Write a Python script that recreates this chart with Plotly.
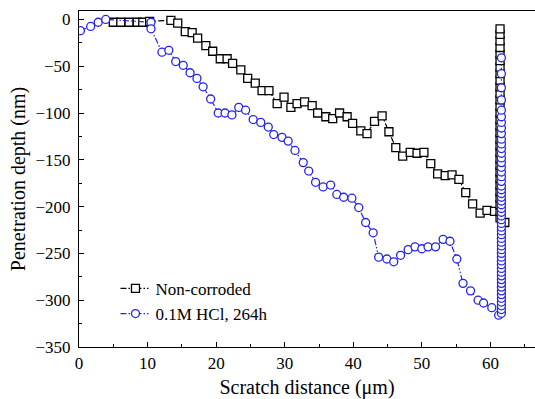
import plotly.graph_objects as go

# Non-corroded scratch profile (scratch distance in um, depth in nm)
ref_x = [5.0, 6.1, 7.3, 8.5, 9.3, 10.3, 13.4, 14.4, 15.5, 16.5, 17.3, 18.5, 19.5, 20.6,
         21.6, 22.4, 23.6, 24.6, 25.7, 26.7, 27.7, 28.9, 29.9, 30.9, 31.8, 32.9, 34.0,
         34.8, 36.0, 37.0, 38.0, 39.1, 39.9, 41.1, 42.0, 43.1, 44.2, 45.2, 46.2, 47.2,
         48.3, 49.3, 50.3, 51.3, 52.3, 53.4, 54.4, 55.4, 56.4, 57.4, 58.5, 59.5, 60.6,
         62.1]
ref_y = [-3, -3, -3, -3, -3, -2, -1, -4, -13, -14, -20, -28, -34, -42,
         -42, -47, -54, -63, -68, -76, -76, -90, -83, -94, -90, -88, -92,
         -100, -104, -106, -100, -104, -111, -119, -122, -109, -103, -120, -137, -146,
         -142, -143, -142, -154, -165, -167, -166, -171, -185, -197, -207, -204, -205,
         -217]
# tip lift-off at the end of the scratch
ref_lift_y = [-212, -205, -198, -191, -184, -177, -170, -163, -156, -149, -142, -135,
              -128, -121, -114, -107, -100, -93, -86, -79, -72, -65, -58, -51, -44,
              -37, -30, -23, -16, -10]
ref_lift_x = [61.4] * len(ref_lift_y)

# 0.1M HCl, 264h scratch profile
hcl_x = [0.2, 1.7, 2.8, 3.9, 10.5, 10.5, 12.1, 13.1, 14.1, 15.2, 16.2, 17.2, 18.1, 19.2,
         20.3, 21.3, 22.3, 23.3, 24.3, 25.4, 26.5, 27.6, 28.4, 29.6, 30.5, 31.5, 32.7,
         33.5, 34.5, 35.6, 36.7, 37.6, 38.6, 39.8, 40.8, 41.8, 42.9, 43.7, 44.9, 45.9,
         46.9, 48.0, 49.0, 50.0, 50.9, 52.0, 53.1, 54.1, 55.1, 56.0, 57.1, 58.2, 59.0,
         60.2, 61.2]
hcl_y = [-12, -7.5, -3, 0, -3, -10, -35, -33, -45, -49, -57, -63, -72, -85,
         -100, -100, -102, -94, -97, -107, -110, -115, -123, -126, -130, -140, -153,
         -162, -174, -179, -177, -187, -190, -191, -201, -217, -228, -254, -256, -259,
         -252, -246, -243, -245, -243, -243, -235, -237, -256, -282, -290, -300, -303,
         -308, -316]
hcl_lift_y = [-314, -310, -306, -302, -298, -294, -290, -286, -282, -278, -274, -270,
              -266, -262, -258, -254, -250, -246, -242, -238, -234, -230, -226, -222,
              -218, -214, -210, -206, -202, -198, -194, -190, -186, -182, -178, -173,
              -168, -163, -158, -153, -148, -143, -138, -133, -128, -122, -116, -110,
              -104, -97, -86, -73, -58, -41]
hcl_lift_x = [61.6] * len(hcl_lift_y)

x_ticks = [0, 10, 20, 30, 40, 50, 60]
y_ticks = [0, -50, -100, -150, -200, -250, -300, -350]

BLUE = "#2424E6"
SERIF = "'Liberation Serif', 'DejaVu Serif', serif"
DASH = "6px,2px,1.5px,2px,1.5px,2px"

fig = go.Figure()
fig.add_trace(go.Scatter(
    x=ref_x + ref_lift_x, y=ref_y + ref_lift_y, name="Non-corroded",
    mode="lines+markers",
    line=dict(color="black", width=1.2, dash=DASH),
    marker=dict(symbol="square", size=8, color="white",
                line=dict(width=1.3, color="black")),
))
fig.add_trace(go.Scatter(
    x=hcl_x + hcl_lift_x, y=hcl_y + hcl_lift_y, name="0.1M HCl, 264h",
    mode="lines+markers",
    line=dict(color=BLUE, width=1.2, dash=DASH),
    marker=dict(symbol="circle", size=8, color="white",
                line=dict(width=1.3, color=BLUE)),
))

axis_common = dict(
    showline=True, linecolor="black", linewidth=1.2,
    ticks="inside", ticklen=5, tickwidth=1, tickcolor="black",
    showgrid=False, zeroline=False,
    tickfont=dict(family=SERIF, size=17, color="black"),
)
fig.update_xaxes(
    range=[0, 66.5], tickvals=x_ticks, mirror=True,
    minor=dict(dtick=5, ticks="inside", ticklen=3, tickcolor="black"),
    title=dict(text="Scratch distance (\u03bcm)", font=dict(family=SERIF, size=20, color="black"),
               standoff=8),
    **axis_common,
)
fig.update_yaxes(
    range=[-350, 9], tickvals=y_ticks, mirror=False,
    minor=dict(dtick=25, ticks="inside", ticklen=3, tickcolor="black"),
    ticklabelstandoff=4,
    title=dict(text="Penetration depth (nm)", font=dict(family=SERIF, size=20, color="black"),
               standoff=4),
    **axis_common,
)
fig.update_layout(
    width=535, height=399,
    font=dict(family=SERIF),
    margin=dict(l=79, r=0, t=11, b=52),
    paper_bgcolor="white", plot_bgcolor="white",
    showlegend=True,
    legend=dict(x=0.08, y=0.045, xanchor="left", yanchor="bottom",
                bgcolor="rgba(0,0,0,0)", tracegroupgap=0,
                font=dict(family=SERIF, size=17, color="black")),
)
fig.write_html("out.html")
